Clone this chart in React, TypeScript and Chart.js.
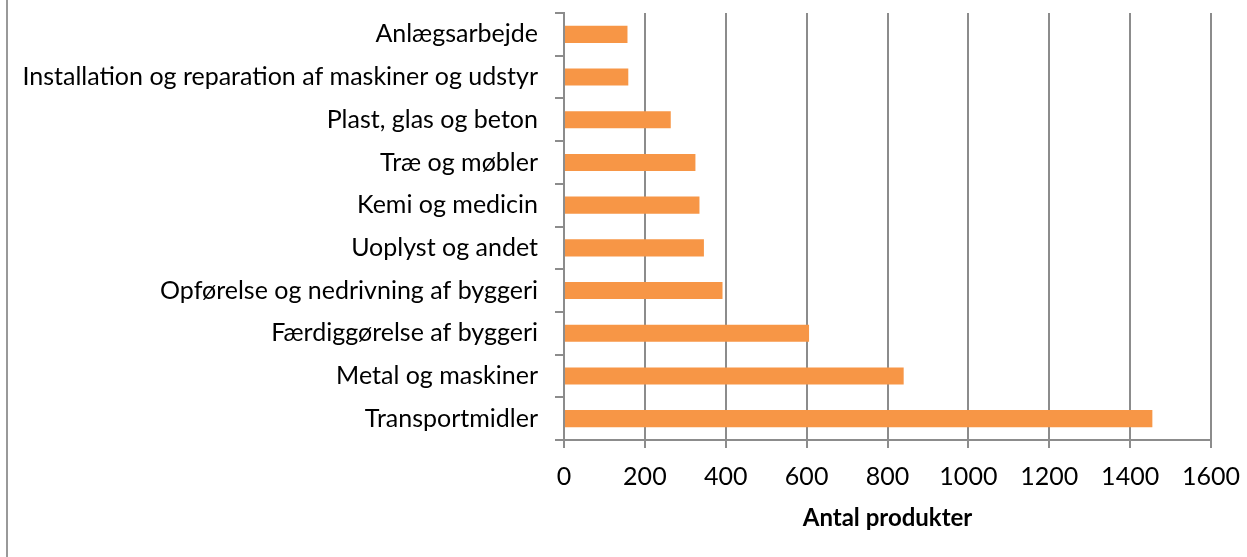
import React, { useEffect, useRef } from "react";
import { Chart, registerables } from "chart.js";

Chart.register(...registerables);

const categories = [
  "Anlægsarbejde",
  "Installation og reparation af maskiner og udstyr",
  "Plast, glas og beton",
  "Træ og møbler",
  "Kemi og medicin",
  "Uoplyst og andet",
  "Opførelse og nedrivning af byggeri",
  "Færdiggørelse af byggeri",
  "Metal og maskiner",
  "Transportmidler",
];
const values = [157, 159, 264, 325, 335, 346, 392, 606, 840, 1455];
const xTicks = [0, 200, 400, 600, 800, 1000, 1200, 1400, 1600];
const xTitle = "Antal produkter";

const FONT = "Lato, 'Open Sans', sans-serif";
const GRID = "#8c8c8c";

const borderPlugin = {
  id: "leftBorder",
  beforeDraw(chart: any) {
    const ctx = chart.ctx;
    ctx.save();
    ctx.fillStyle = "#ffffff";
    ctx.fillRect(0, 0, chart.width, chart.height);
    ctx.strokeStyle = "#999999";
    ctx.lineWidth = 2;
    ctx.beginPath();
    ctx.moveTo(7, 0);
    ctx.lineTo(7, chart.height);
    ctx.stroke();
    ctx.restore();
  },
};

export default function App() {
  const ref = useRef<HTMLCanvasElement | null>(null);
  useEffect(() => {
    document.body.style.margin = "0";
    const chart = new Chart(ref.current as HTMLCanvasElement, {
      type: "bar",
      data: {
        labels: categories,
        datasets: [
          {
            data: values,
            backgroundColor: "#F79646",
            borderWidth: 0,
            barPercentage: 0.4,
            categoryPercentage: 1,
          },
        ],
      },
      plugins: [borderPlugin],
      options: {
        indexAxis: "y",
        animation: false,
        responsive: false,
        maintainAspectRatio: false,
        layout: { padding: { left: 10, top: 13, right: 36, bottom: 0 } },
        plugins: { legend: { display: false }, tooltip: { enabled: false } },
        scales: {
          y: {
            offset: true,
            grid: {
              offset: true,
              drawOnChartArea: false,
              drawTicks: true,
              tickLength: 9,
              tickColor: GRID,
              color: GRID,
              lineWidth: 2,
            },
            border: { display: true, color: GRID, width: 2 },
            ticks: {
              color: "#000",
              padding: 17,
              font: { family: FONT, size: 25 },
            },
            afterFit(scale: any) {
              scale.width = 554;
              scale.paddingTop = 0;
              scale.paddingBottom = 0;
            },
          },
          x: {
            min: 0,
            max: 1600,
            afterBuildTicks(scale: any) {
              scale.ticks = xTicks.map((v) => ({ value: v }));
            },
            grid: {
              color: GRID,
              lineWidth: 2,
              drawTicks: true,
              tickLength: 8,
              tickColor: GRID,
            },
            border: { display: true, color: GRID, width: 2 },
            ticks: {
              color: "#000",
              padding: 14,
              maxRotation: 0,
              font: { family: FONT, size: 25 },
              callback: (v: any) => String(v),
            },
            title: {
              display: true,
              text: xTitle,
              color: "#000",
              font: { family: FONT, size: 24, weight: "bold" },
              padding: { top: 16, bottom: 24 },
            },
            afterFit(scale: any) {
              scale.height = 117;
              scale.paddingLeft = 0;
              scale.paddingRight = 0;
            },
          },
        },
      },
    } as any);
    return () => chart.destroy();
  }, []);
  return (
    <div style={{ position: "absolute", left: 0, top: 0, width: 1247, height: 557 }}>
      <canvas ref={ref} width={1247} height={557} style={{ width: 1247, height: 557 }} />
    </div>
  );
}
